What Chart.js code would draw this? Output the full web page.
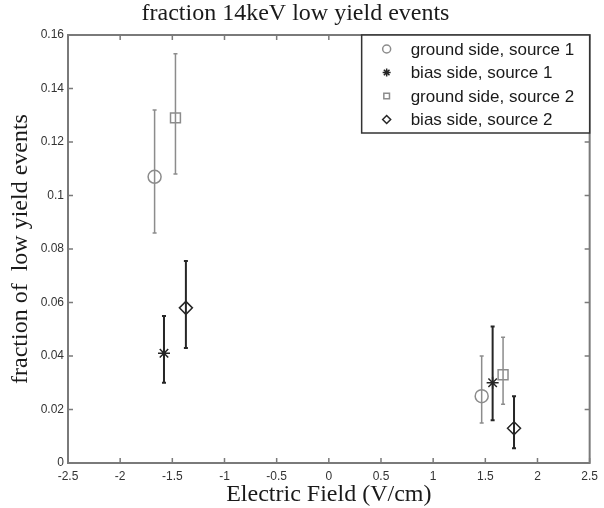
<!DOCTYPE html>
<html>
<head>
<meta charset="utf-8">
<script src="https://cdn.jsdelivr.net/npm/chart.js@4.4.1/dist/chart.umd.min.js"></script>
<style>
  html, body { margin: 0; padding: 0; background: #fff; }
</style>
</head>
<body>
<canvas id="myChart" width="604" height="508"></canvas>
<script>
// values
var seriesLabels = ["ground side, source 1", "bias side, source 1", "ground side, source 2", "bias side, source 2"];
var xTicks = [-2.5, -2, -1.5, -1, -0.5, 0, 0.5, 1, 1.5, 2, 2.5];
var yTicks = [0, 0.02, 0.04, 0.06, 0.08, 0.1, 0.12, 0.14, 0.16];

var groundS1X = [-1.67, 1.465];
var groundS1Y = [0.107, 0.025];
var groundS1Lo = [0.086, 0.015];
var groundS1Hi = [0.132, 0.040];

var biasS1X = [-1.58, 1.57];
var biasS1Y = [0.041, 0.030];
var biasS1Lo = [0.030, 0.016];
var biasS1Hi = [0.055, 0.051];

var groundS2X = [-1.47, 1.67];
var groundS2Y = [0.129, 0.033];
var groundS2Lo = [0.108, 0.022];
var groundS2Hi = [0.153, 0.047];

var biasS2X = [-1.37, 1.775];
var biasS2Y = [0.058, 0.013];
var biasS2Lo = [0.043, 0.0055];
var biasS2Hi = [0.0755, 0.025];

var gray = "#8c8c8c";
var dark = "#262626";

function pts(xs, ys) {
  return xs.map(function (x, i) { return { x: x, y: ys[i] }; });
}

function makeSet(i, xs, ys, lo, hi, style, radius, color, errWidth) {
  return {
    label: seriesLabels[i],
    data: pts(xs, ys),
    errLo: lo,
    errHi: hi,
    errWidth: errWidth,
    pointStyle: style,
    pointRadius: radius,
    pointHoverRadius: radius,
    borderColor: color,
    backgroundColor: "rgba(0,0,0,0)",
    pointBorderWidth: 1.5,
    showLine: false
  };
}

var datasets = [
  makeSet(0, groundS1X, groundS1Y, groundS1Lo, groundS1Hi, "circle", 6.5, gray, 1.5),
  makeSet(1, biasS1X, biasS1Y, biasS1Lo, biasS1Hi, "star", 6, dark, 2),
  makeSet(2, groundS2X, groundS2Y, groundS2Lo, groundS2Hi, "rect", 7, gray, 1.5),
  makeSet(3, biasS2X, biasS2Y, biasS2Lo, biasS2Hi, "rectRot", 6.5, dark, 2)
];

// error bars under the markers
var errorBars = {
  id: "errorBars",
  beforeDatasetsDraw: function (chart) {
    var ctx = chart.ctx;
    var xs = chart.scales.x, ys = chart.scales.y;
    ctx.save();
    chart.data.datasets.forEach(function (ds) {
      ctx.strokeStyle = ds.borderColor;
      ctx.lineWidth = ds.errWidth;
      ds.data.forEach(function (p, j) {
        var px = xs.getPixelForValue(p.x);
        var top = ys.getPixelForValue(ds.errHi[j]);
        var bot = ys.getPixelForValue(ds.errLo[j]);
        ctx.beginPath();
        ctx.moveTo(px, top); ctx.lineTo(px, bot);
        ctx.moveTo(px - 2, top); ctx.lineTo(px + 2, top);
        ctx.moveTo(px - 2, bot); ctx.lineTo(px + 2, bot);
        ctx.stroke();
      });
    });
    ctx.restore();
  }
};

// box with inward ticks on all sides, like matlab
var frame = {
  id: "frame",
  afterDraw: function (chart) {
    var ctx = chart.ctx;
    var a = chart.chartArea;
    var xs = chart.scales.x, ys = chart.scales.y;
    ctx.save();
    ctx.strokeStyle = "#7a7a7a";
    ctx.lineWidth = 2;
    ctx.strokeRect(a.left, a.top, a.right - a.left, a.bottom - a.top);
    ctx.lineWidth = 1.5;
    ctx.beginPath();
    xTicks.forEach(function (v) {
      var px = xs.getPixelForValue(v);
      ctx.moveTo(px, a.bottom); ctx.lineTo(px, a.bottom - 5);
      ctx.moveTo(px, a.top); ctx.lineTo(px, a.top + 5);
    });
    yTicks.forEach(function (v) {
      var py = ys.getPixelForValue(v);
      ctx.moveTo(a.left, py); ctx.lineTo(a.left + 5, py);
      ctx.moveTo(a.right, py); ctx.lineTo(a.right - 5, py);
    });
    ctx.stroke();
    ctx.restore();
  }
};

// legend box in the top right corner of the plot
var boxLegend = {
  id: "boxLegend",
  afterDraw: function (chart) {
    var ctx = chart.ctx;
    var a = chart.chartArea;
    var w = 228, h = 98;
    var left = a.right - w, top = a.top;
    ctx.save();
    ctx.fillStyle = "#fff";
    ctx.fillRect(left, top, w, h);
    ctx.strokeStyle = "#333";
    ctx.lineWidth = 1.5;
    ctx.strokeRect(left, top, w, h);
    ctx.font = "17px 'Liberation Sans', Arial, sans-serif";
    ctx.textBaseline = "middle";
    chart.data.datasets.forEach(function (ds, i) {
      var cy = top + 14 + i * 23.5;
      ctx.strokeStyle = ds.borderColor;
      ctx.fillStyle = "rgba(0,0,0,0)";
      Chart.helpers.drawPoint(ctx, { pointStyle: ds.pointStyle, radius: 4, borderWidth: 1.2, rotation: 0 }, left + 25, cy);
      ctx.fillStyle = "#1a1a1a";
      ctx.fillText(ds.label, left + 49, cy + 1);
    });
    ctx.restore();
  }
};

var tickFont = { family: "'Liberation Sans', Arial, sans-serif", size: 12 };
var titleFont = { family: "'Liberation Serif', 'Times New Roman', serif", size: 24, weight: "normal", lineHeight: 1 };

new Chart("myChart", {
  type: "scatter",
  data: { datasets: datasets },
  options: {
    responsive: false,
    animation: false,
    layout: { padding: { left: 0, right: 13, top: 0, bottom: 0 } },
    plugins: {
      legend: { display: false },
      tooltip: { enabled: false },
      title: {
        display: true,
        text: "fraction 14keV low yield events",
        color: "#1a1a1a",
        font: titleFont,
        padding: { top: 2, bottom: 9 }
      }
    },
    scales: {
      x: {
        type: "linear",
        min: -2.5,
        max: 2.5,
        afterBuildTicks: function (s) { s.ticks = xTicks.map(function (v) { return { value: v }; }); },
        afterFit: function (s) { s.height = 45; },
        ticks: {
          autoSkip: false,
          maxRotation: 0,
          padding: 6,
          color: "#333",
          font: tickFont,
          callback: function (v) { return String(+v.toFixed(2)); }
        },
        grid: { display: false, drawTicks: false },
        border: { display: false },
        title: { display: true, text: "Electric Field (V/cm)", color: "#1a1a1a", font: titleFont, padding: { top: 0, bottom: 1 } }
      },
      y: {
        type: "linear",
        min: 0,
        max: 0.16,
        afterBuildTicks: function (s) { s.ticks = yTicks.map(function (v) { return { value: v }; }); },
        afterFit: function (s) { s.width = 68; },
        ticks: {
          autoSkip: false,
          padding: 4,
          color: "#333",
          font: tickFont,
          callback: function (v) { return String(+v.toFixed(4)); }
        },
        grid: { display: false, drawTicks: false },
        border: { display: false },
        title: { display: true, text: "fraction of  low yield events", color: "#1a1a1a", font: titleFont, padding: { top: 8.5, bottom: 0 } }
      }
    }
  },
  plugins: [errorBars, frame, boxLegend]
});
</script>
</body>
</html>
